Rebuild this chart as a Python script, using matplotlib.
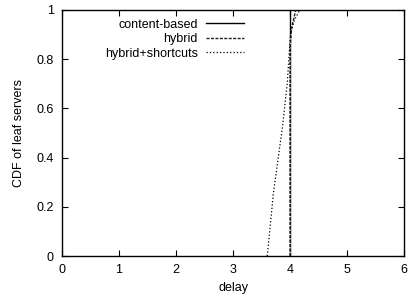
import numpy as np
import matplotlib
matplotlib.use("Agg")
import matplotlib.pyplot as plt

plt.rcParams['font.family'] = ['Liberation Sans', 'DejaVu Sans']
plt.rcParams['font.size'] = 9

# CDF curves
content_delay = [4.0, 4.0]
content_cdf = [0.0, 1.0]

hybrid_delay = [4.0, 4.0, 4.03, 4.07, 4.1]
hybrid_cdf = [0.0, 0.85, 0.93, 0.97, 1.0]

shortcuts_delay = [3.6, 3.71, 3.87, 3.95, 4.01, 4.08, 4.17]
shortcuts_cdf = [0.0, 0.26, 0.53, 0.70, 0.91, 0.96, 1.0]

xticks = [0, 1, 2, 3, 4, 5, 6]
yticks = [0, 0.2, 0.4, 0.6, 0.8, 1]

fig = plt.figure(figsize=(4.09, 3.01), dpi=100)
ax = fig.add_axes([0.1516, 0.1495, 0.8364, 0.8175])

ax.plot(content_delay, content_cdf, color='black', lw=1.0, ls='-',
        label='content-based', zorder=2)
# dashed curve lies on top of the solid one, gaps hide it like in the original
ax.plot(hybrid_delay, hybrid_cdf, color='#222222', lw=1.0, ls=(0, (2.2, 1.0)),
        gapcolor='white', label='hybrid', zorder=3)
ax.plot(shortcuts_delay, shortcuts_cdf, color='black', lw=0.9, ls=(0, (1, 1.7)),
        label='hybrid+shortcuts', zorder=3)

ax.set_xlim(0, 6)
ax.set_ylim(0, 1)
ax.set_xticks(xticks)
ax.set_yticks(yticks)
ax.set_xticklabels([str(t) for t in xticks])
ax.set_yticklabels(['0', '0.2', '0.4', '0.6', '0.8', '1'])
ax.tick_params(direction='in', top=True, right=True, length=4, width=0.8,
               labelsize=9, pad=6)
for s in ax.spines.values():
    s.set_linewidth(1.0)

ax.set_xlabel('delay', fontsize=9, labelpad=4)
ax.set_ylabel('CDF of leaf servers', fontsize=9, labelpad=8)

leg = ax.legend(loc='upper right', bbox_to_anchor=(0.532, 0.965), frameon=False,
                markerfirst=False, handlelength=3.0, handletextpad=0.7,
                labelspacing=0.2, fontsize=9, borderaxespad=0, borderpad=0)
# legend sample of hybrid without the white gaps
leg.legend_handles[1].set_gapcolor(None)

fig.savefig('out.png', dpi=100)
